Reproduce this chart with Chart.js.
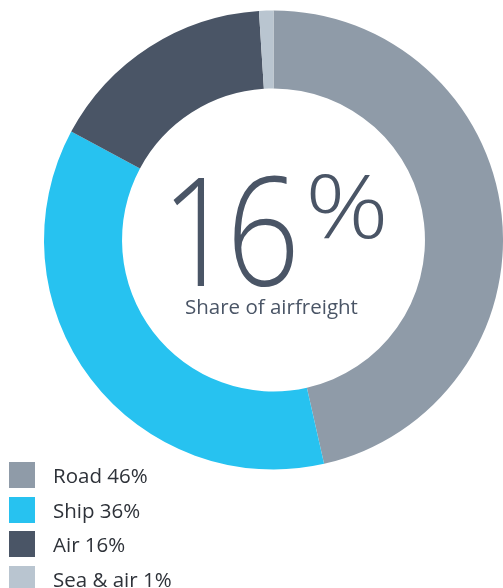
<!DOCTYPE html>
<html>
<head>
<meta charset="utf-8">
<script src="https://cdn.jsdelivr.net/npm/chart.js@4"></script>
<style>
    body { margin: 0; background: #fff; }
    #wrap { position: relative; width: 503px; height: 588px; }
    #center { position: absolute; left: 0; top: 0; width: 503px; pointer-events: none; font-family: "Open Sans", sans-serif; color: #4a5566; }
    #big { position: absolute; left: 161px; top: 152px; font-size: 152px; font-weight: 300; line-height: 1; letter-spacing: -10px; transform: scaleX(0.85); transform-origin: left top; }
    #pct { position: absolute; left: 305px; top: 160px; font-size: 88px; font-weight: 300; line-height: 1; transform: scaleX(1.18); transform-origin: left top; }
    #sub { position: absolute; left: 185px; top: 292px; font-size: 20.5px; }
    #legend { position: absolute; left: 9px; top: 458px; font-family: "Open Sans", sans-serif; font-size: 20.5px; color: #2e3239; }
    .item { display: flex; align-items: center; height: 34.5px; }
    .box { width: 26px; height: 26px; margin-right: 18px; }
</style>
</head>
<body>
<div id="wrap">
    <canvas id="donut" width="503" height="588"></canvas>
    <div id="center">
        <div id="big">16</div>
        <div id="pct">%</div>
        <div id="sub">Share of airfreight</div>
    </div>
    <div id="legend"></div>
</div>
<script>
const labels = ["Road", "Ship", "Air", "Sea & air"];
const shares = [46, 36, 16, 1];
const colors = ["#8f9ba8", "#27c2f0", "#4a5566", "#b9c5d0"];

// legend built from the same arrays
const legend = document.getElementById("legend");
labels.forEach((l, i) => {
    const row = document.createElement("div");
    row.className = "item";
    row.innerHTML = `<div class="box" style="background:${colors[i]}"></div><span>${l} ${shares[i]}%</span>`;
    legend.appendChild(row);
});

const ctx = document.getElementById('donut').getContext('2d');
const donut = new Chart(ctx, {
    type: 'doughnut',
    data: {
        labels: labels,
        datasets: [{
            data: shares,
            backgroundColor: colors,
            borderWidth: 0
        }]
    },
    options: {
        responsive: false,
        animation: false,
        cutout: '66%',
        layout: {
            padding: { left: 44, right: 0, top: 10, bottom: 118 }
        },
        plugins: {
            legend: { display: false },
            tooltip: { enabled: false }
        }
    }
});
</script>
</body>
</html>
